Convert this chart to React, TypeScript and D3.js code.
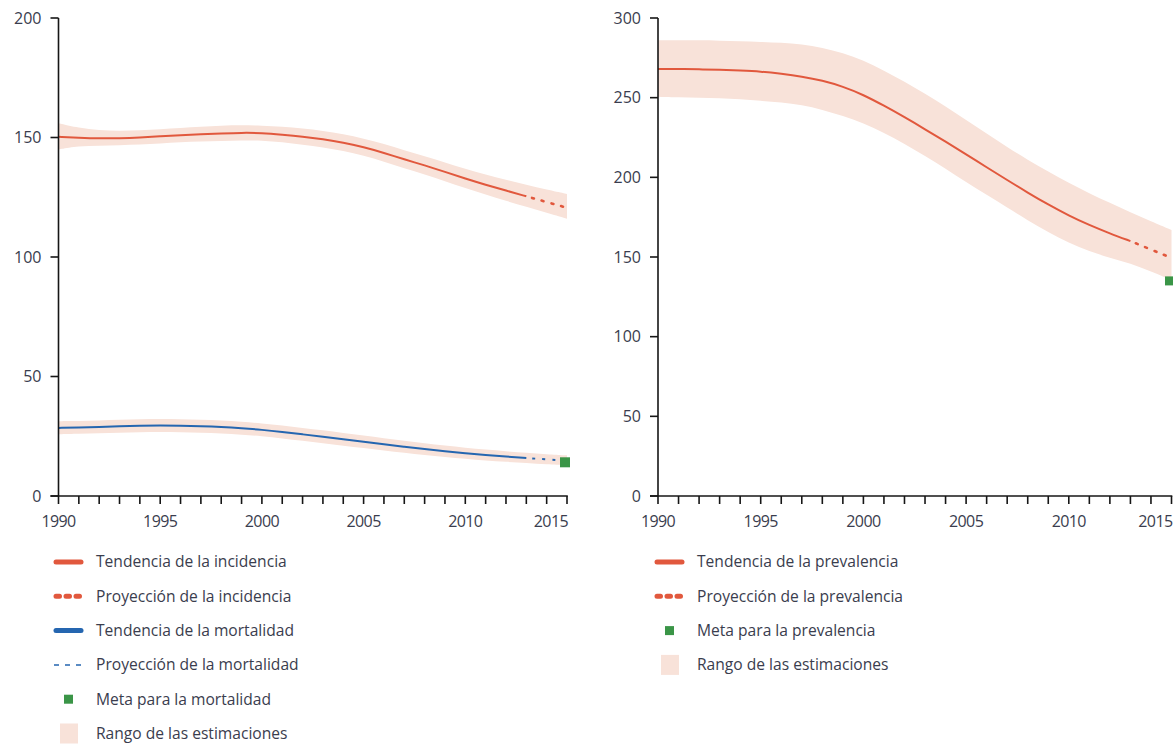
import React from 'react';
import * as d3 from 'd3';

const years = [1990, 1991, 1992, 1993, 1994, 1995, 1996, 1997, 1998, 1999, 2000, 2001, 2002, 2003, 2004, 2005, 2006, 2007, 2008, 2009, 2010, 2011, 2012, 2013, 2014, 2015];
const trendYears = years.slice(0, 24); // 1990–2013
const projectionYears = [2013, 2014, 2015];
const targetYear = 2015;

const incidenceTrend = [150.3, 149.9, 149.6, 149.7, 150.0, 150.5, 151.0, 151.4, 151.7, 152.0, 151.9, 151.2, 150.4, 149.3, 147.9, 146.0, 143.6, 140.8, 138.4, 135.6, 132.8, 130.2, 127.8, 125.4];
const incidenceProjection = [125.4, 123.0, 120.6];
const incidenceHigh = [156, 154, 153, 152.8, 153, 153.5, 154, 154.5, 155, 155.2, 155, 154.5, 153.8, 152.8, 151.4, 149.6, 147.3, 144.6, 142.2, 139.5, 136.9, 134.5, 132.3, 130.2, 128.2, 126.4];
const incidenceLow = [145, 146.5, 146.5, 146.8, 147, 147.5, 148, 148.3, 148.5, 148.8, 148.8, 148, 147, 145.8, 144.4, 142.4, 140, 137, 134.6, 131.7, 128.8, 126.1, 123.5, 121.0, 118.5, 116.0];

const mortalityTrend = [28.5, 28.6, 28.9, 29.2, 29.4, 29.5, 29.4, 29.2, 28.9, 28.4, 27.7, 26.8, 25.8, 24.8, 23.7, 22.7, 21.6, 20.6, 19.6, 18.7, 17.9, 17.1, 16.5, 15.9];
const mortalityProjection = [15.9, 15.3, 14.8];
const mortalityHigh = [31.3, 31.3, 31.6, 31.9, 32.1, 32.2, 32.1, 31.9, 31.6, 31.1, 30.4, 29.5, 28.5, 27.5, 26.4, 25.3, 24.2, 23.1, 22.1, 21.1, 20.2, 19.4, 18.7, 18.1, 17.5, 17.0];
const mortalityLow = [25.8, 26, 26.2, 26.5, 26.7, 26.8, 26.7, 26.5, 26.2, 25.7, 25.0, 24.1, 23.1, 22.1, 21.0, 20.1, 19.0, 18.1, 17.1, 16.3, 15.6, 14.8, 14.3, 13.8, 13.2, 12.8];
const mortalityTarget = 14.1;

const prevalenceTrend = [268, 268, 267.8, 267.5, 267, 266.4, 265, 263.3, 260.8, 257, 251.8, 245, 237.8, 230.2, 222.4, 214.4, 206.3, 198.3, 190.4, 182.9, 176, 170, 164.8, 160];
const prevalenceProjection = [160, 154.7, 149.4];
const prevalenceHigh = [286, 286, 286, 285.8, 285.5, 285, 284.5, 283.5, 281.5, 278, 273.5, 267, 260, 252.5, 244.5, 236, 227.5, 219, 211, 203.5, 196.5, 190, 184, 178, 172.5, 167];
const prevalenceLow = [250.5, 250.3, 250, 249.6, 249, 248, 247, 245.5, 242.5, 238.5, 234, 228, 221, 213.5, 205.5, 197, 189, 181, 173, 165.5, 159, 153.5, 149.5, 146, 141, 135.6];
const prevalenceTarget = 135;

const leftYTicks = [0, 50, 100, 150, 200];
const rightYTicks = [0, 50, 100, 150, 200, 250, 300];
const xLabelYears = [1990, 1995, 2000, 2005, 2010, 2015];

const leftLegend = [
  { label: 'Tendencia de la incidencia', kind: 'redLine' },
  { label: 'Proyección de la incidencia', kind: 'redDots' },
  { label: 'Tendencia de la mortalidad', kind: 'blueLine' },
  { label: 'Proyección de la mortalidad', kind: 'blueDash' },
  { label: 'Meta para la mortalidad', kind: 'target' },
  { label: 'Rango de las estimaciones', kind: 'band' },
];
const rightLegend = [
  { label: 'Tendencia de la prevalencia', kind: 'redLine' },
  { label: 'Proyección de la prevalencia', kind: 'redDots' },
  { label: 'Meta para la prevalencia', kind: 'target' },
  { label: 'Rango de las estimaciones', kind: 'band' },
];

const RED = '#e1583d';
const BLUE = '#2566b0';
const GREEN = '#3a9547';
const BAND = '#f8e2d9';
const AXIS = '#161616';
const TEXT = '#3a3d4e';
const FONT = '"Open Sans", "Noto Sans", sans-serif';

type Series = {
  trend: number[];
  projection: number[];
  high: number[];
  low: number[];
  target: number;
  color: string;
  dotted: boolean;
};

function Panel({ x0, x1, yMax, yTicks, series, targetSize }: { x0: number; x1: number; yMax: number; yTicks: number[]; series: Series[]; targetSize: number }) {
  const x = d3.scaleLinear().domain([1990, 2015]).range([x0, x1]);
  const y = d3.scaleLinear().domain([0, yMax]).range([496, 18]);
  const curve = d3.curveBasis;
  const line = (ys: number[], xs: number[]) =>
    d3.line<number>().x((_, i) => x(xs[i])).y((d) => y(d)).curve(curve)(ys) || '';
  const yearTicks = x.ticks(25);
  return (
    <g>
      {series.map((s, k) => {
        const a = d3
          .area<number>()
          .x((_, i) => x(years[i]))
          .y0((_, i) => y(s.low[i]))
          .y1((d) => y(d))
          .curve(curve)(s.high) || '';
        return <path key={'b' + k} d={a} fill={BAND} />;
      })}
      {series.map((s, k) => (
        <g key={'l' + k}>
          <path d={line(s.trend, trendYears)} fill="none" stroke={s.color} strokeWidth={2} />
          <path
            d={line(s.projection, projectionYears)}
            fill="none"
            stroke={s.color}
            strokeWidth={s.dotted ? 2.6 : 2}
            strokeDasharray={s.dotted ? '2 8' : '3 7'}
            strokeDashoffset={-6}
            strokeLinecap={s.dotted ? 'round' : 'butt'}
          />
          {!isNaN(s.target) ? (
            <rect
              x={x(targetYear) - targetSize / 2 - 2}
              y={y(s.target) - targetSize / 2}
              width={targetSize}
              height={targetSize}
              fill={GREEN}
            />
          ) : null}
        </g>
      ))}
      <line x1={x0} x2={x0} y1={y(yMax)} y2={y(0)} stroke={AXIS} strokeWidth={1.6} />
      <line x1={x0 - 8} x2={x1 + 0.8} y1={y(0)} y2={y(0)} stroke={AXIS} strokeWidth={1.6} />
      {yTicks.map((t) => (
        <g key={'yt' + t}>
          <line x1={x0 - 8} x2={x0} y1={y(t)} y2={y(t)} stroke={AXIS} strokeWidth={1.6} />
          <text x={x0 - 17} y={y(t)} dy="0.35em" textAnchor="end" fontSize={16} fill={TEXT} fontFamily={FONT}>
            {t}
          </text>
        </g>
      ))}
      {yearTicks.map((t) => (
        <line key={'xt' + t} x1={x(t)} x2={x(t)} y1={y(0)} y2={y(0) + 8} stroke={AXIS} strokeWidth={1.6} />
      ))}
      {xLabelYears.map((t) => (
        <text
          key={'xl' + t}
          x={t === 2015 ? x(t) + 1 : x(t)}
          y={527}
          textAnchor={t === 2015 ? 'end' : 'middle'}
          fontSize={16}
          fill={TEXT}
          fontFamily={FONT}
          letterSpacing={-0.6}
        >
          {t}
        </text>
      ))}
    </g>
  );
}

function Legend({ x, items }: { x: number; items: { label: string; kind: string }[] }) {
  const rowY = d3.scaleLinear().domain([0, 5]).range([562, 733.5]);
  return (
    <g>
      {items.map((it, i) => {
        const cy = rowY(i);
        let sym: React.ReactNode = null;
        if (it.kind === 'redLine' || it.kind === 'blueLine') {
          sym = <line x1={x + 2} x2={x + 27} y1={cy} y2={cy} stroke={it.kind === 'redLine' ? RED : BLUE} strokeWidth={5} strokeLinecap="round" />;
        } else if (it.kind === 'redDots') {
          sym = <line x1={x + 2} x2={x + 27} y1={cy} y2={cy} stroke={RED} strokeWidth={5} strokeLinecap="round" strokeDasharray="3.5 6.5" />;
        } else if (it.kind === 'blueDash') {
          sym = <line x1={x} x2={x + 29} y1={cy} y2={cy} stroke={BLUE} strokeWidth={1.5} strokeDasharray="5 6" />;
        } else if (it.kind === 'target') {
          sym = <rect x={x + 10} y={cy - 4.5} width={9} height={9} fill={GREEN} />;
        } else {
          sym = <rect x={x + 6} y={cy - 10} width={18} height={20} fill={BAND} />;
        }
        return (
          <g key={it.label}>
            {sym}
            <text x={x + 42} y={cy} dy="0.35em" fontSize={15.6} fill={TEXT} fontFamily={FONT}>
              {it.label}
            </text>
          </g>
        );
      })}
    </g>
  );
}

export default function App() {
  const leftSeries: Series[] = [
    { trend: incidenceTrend, projection: incidenceProjection, high: incidenceHigh, low: incidenceLow, target: NaN, color: RED, dotted: true },
    { trend: mortalityTrend, projection: mortalityProjection, high: mortalityHigh, low: mortalityLow, target: mortalityTarget, color: BLUE, dotted: false },
  ];
  const rightSeries: Series[] = [
    { trend: prevalenceTrend, projection: prevalenceProjection, high: prevalenceHigh, low: prevalenceLow, target: prevalenceTarget, color: RED, dotted: true },
  ];
  return (
    <svg width={1173} height={745} style={{ position: 'absolute', left: 0, top: 0, background: '#fff' }}>
      <rect width={1173} height={745} fill="#fff" />
      <Panel x0={58.5} x1={567} yMax={200} yTicks={leftYTicks} series={leftSeries} targetSize={10} />
      <Panel x0={658} x1={1171.5} yMax={300} yTicks={rightYTicks} series={rightSeries} targetSize={9} />
      <Legend x={54} items={leftLegend} />
      <Legend x={655} items={rightLegend} />
    </svg>
  );
}
